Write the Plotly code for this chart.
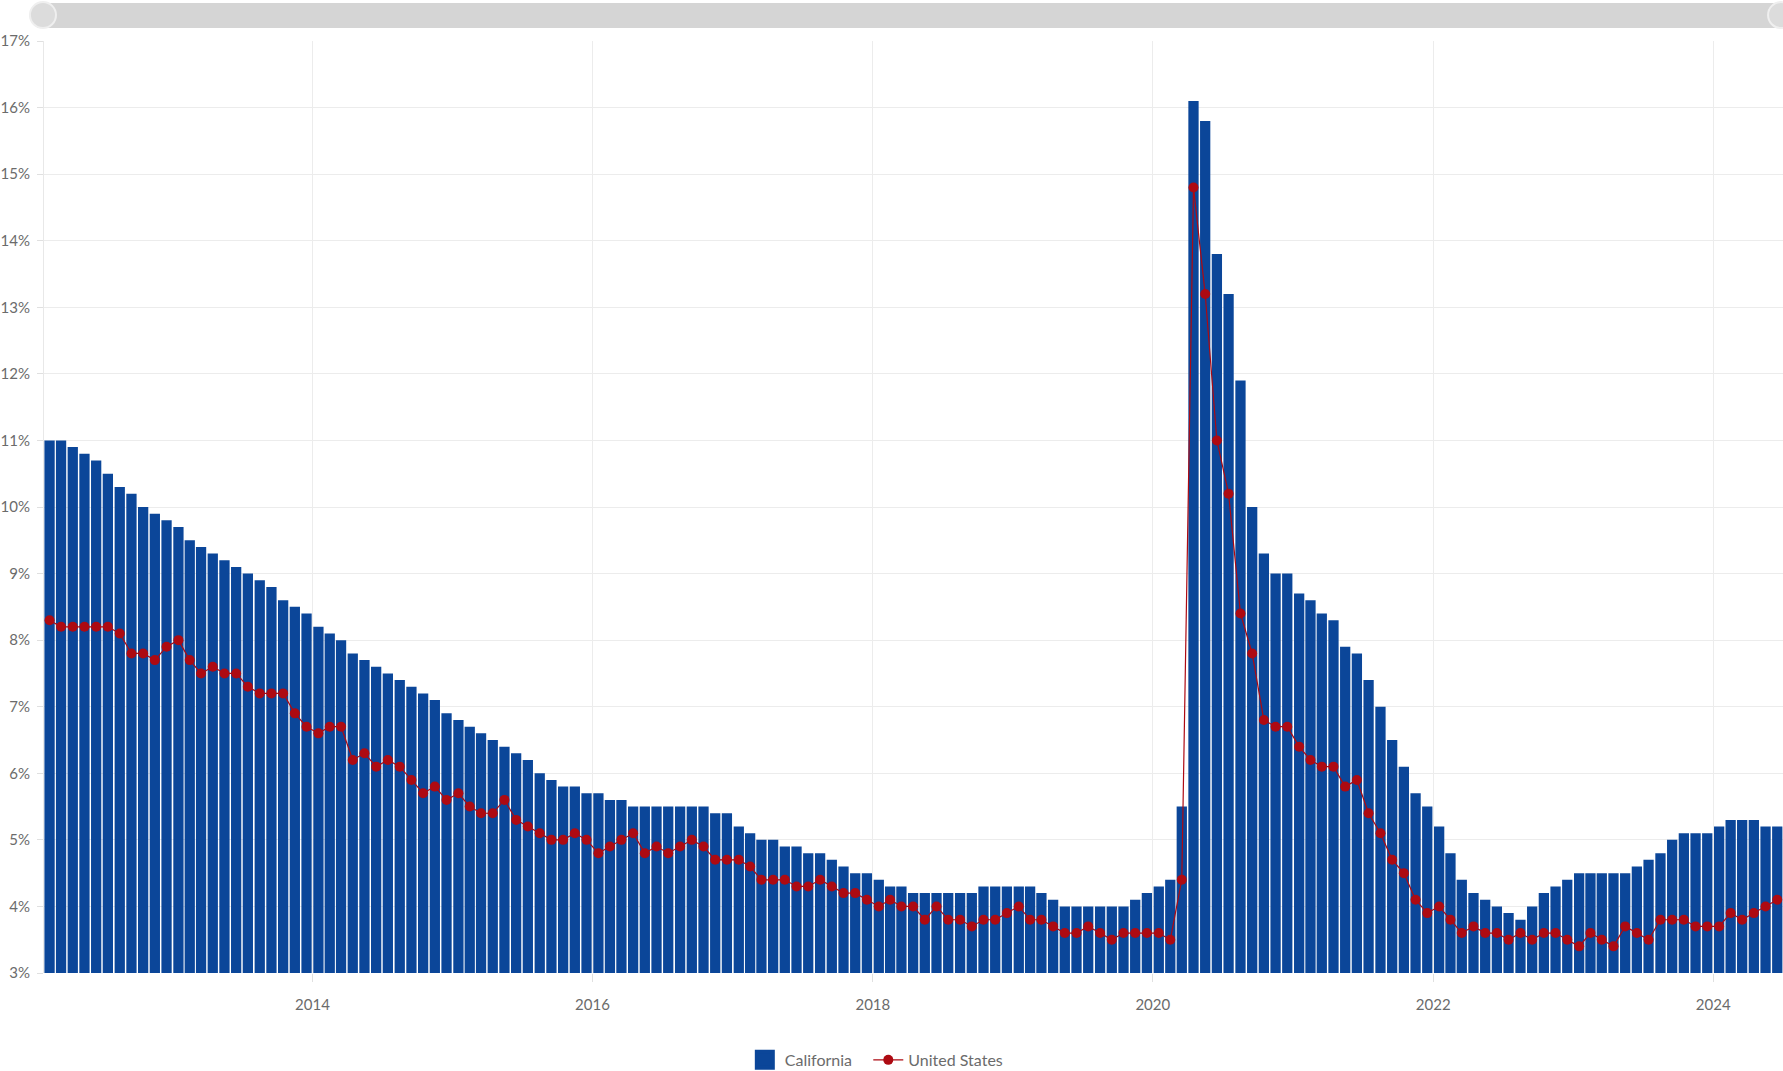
import pandas as pd
import plotly.graph_objects as go

start_month = "2012-02-01"

california = [
    11.0, 11.0, 10.9, 10.8, 10.7, 10.5, 10.3, 10.2, 10.0, 9.9, 9.8,
    9.7, 9.5, 9.4, 9.3, 9.2, 9.1, 9.0, 8.9, 8.8, 8.6, 8.5, 8.4,
    8.2, 8.1, 8.0, 7.8, 7.7, 7.6, 7.5, 7.4, 7.3, 7.2, 7.1, 6.9,
    6.8, 6.7, 6.6, 6.5, 6.4, 6.3, 6.2, 6.0, 5.9, 5.8, 5.8, 5.7,
    5.7, 5.6, 5.6, 5.5, 5.5, 5.5, 5.5, 5.5, 5.5, 5.5, 5.4, 5.4,
    5.2, 5.1, 5.0, 5.0, 4.9, 4.9, 4.8, 4.8, 4.7, 4.6, 4.5, 4.5,
    4.4, 4.3, 4.3, 4.2, 4.2, 4.2, 4.2, 4.2, 4.2, 4.3, 4.3, 4.3,
    4.3, 4.3, 4.2, 4.1, 4.0, 4.0, 4.0, 4.0, 4.0, 4.0, 4.1, 4.2,
    4.3, 4.4, 5.5, 16.1, 15.8, 13.8, 13.2, 11.9, 10.0, 9.3, 9.0, 9.0,
    8.7, 8.6, 8.4, 8.3, 7.9, 7.8, 7.4, 7.0, 6.5, 6.1, 5.7, 5.5,
    5.2, 4.8, 4.4, 4.2, 4.1, 4.0, 3.9, 3.8, 4.0, 4.2, 4.3, 4.4,
    4.5, 4.5, 4.5, 4.5, 4.5, 4.6, 4.7, 4.8, 5.0, 5.1, 5.1, 5.1,
    5.2, 5.3, 5.3, 5.3, 5.2, 5.2,
]

united_states = [
    8.3, 8.2, 8.2, 8.2, 8.2, 8.2, 8.1, 7.8, 7.8, 7.7, 7.9,
    8.0, 7.7, 7.5, 7.6, 7.5, 7.5, 7.3, 7.2, 7.2, 7.2, 6.9, 6.7,
    6.6, 6.7, 6.7, 6.2, 6.3, 6.1, 6.2, 6.1, 5.9, 5.7, 5.8, 5.6,
    5.7, 5.5, 5.4, 5.4, 5.6, 5.3, 5.2, 5.1, 5.0, 5.0, 5.1, 5.0,
    4.8, 4.9, 5.0, 5.1, 4.8, 4.9, 4.8, 4.9, 5.0, 4.9, 4.7, 4.7,
    4.7, 4.6, 4.4, 4.4, 4.4, 4.3, 4.3, 4.4, 4.3, 4.2, 4.2, 4.1,
    4.0, 4.1, 4.0, 4.0, 3.8, 4.0, 3.8, 3.8, 3.7, 3.8, 3.8, 3.9,
    4.0, 3.8, 3.8, 3.7, 3.6, 3.6, 3.7, 3.6, 3.5, 3.6, 3.6, 3.6,
    3.6, 3.5, 4.4, 14.8, 13.2, 11.0, 10.2, 8.4, 7.8, 6.8, 6.7, 6.7,
    6.4, 6.2, 6.1, 6.1, 5.8, 5.9, 5.4, 5.1, 4.7, 4.5, 4.1, 3.9,
    4.0, 3.8, 3.6, 3.7, 3.6, 3.6, 3.5, 3.6, 3.5, 3.6, 3.6, 3.5,
    3.4, 3.6, 3.5, 3.4, 3.7, 3.6, 3.5, 3.8, 3.8, 3.8, 3.7, 3.7,
    3.7, 3.9, 3.8, 3.9, 4.0, 4.1,
]

series_names = ["California", "United States"]
y_tick_values = list(range(3, 18))
y_tick_labels = [f"{v}%" for v in y_tick_values]

months = pd.date_range(start_month, periods=len(california), freq="MS")
x_start = months[0]
x_end = months[-1] + pd.offsets.MonthBegin(1)

BLUE = "#0b4699"
RED = "#ad0a12"
GRID = "#ececec"
TEXT = "#6b6b6b"
FONT = "Lato, 'Open Sans', sans-serif"

month_ms = 30.44 * 24 * 3600 * 1000

fig = go.Figure()
fig.add_trace(go.Bar(
    x=months, y=california, name=series_names[0],
    xperiod="M1", xperiodalignment="middle",
    width=month_ms * 0.88,
    marker=dict(color=BLUE, line=dict(width=0)),
    base=0, legendgroup="ca", showlegend=False,
))
# legend-only entry with a larger square swatch for California
fig.add_trace(go.Scatter(
    x=[None], y=[None], name=series_names[0], mode="markers",
    marker=dict(symbol="square", size=16, color=BLUE, line=dict(color=BLUE, width=4)),
    legendgroup="ca", showlegend=True, hoverinfo="skip", legend="legend",
))
fig.add_trace(go.Scatter(
    x=months, y=united_states, name=series_names[1],
    xperiod="M1", xperiodalignment="middle",
    mode="lines+markers",
    line=dict(color=RED, width=1.2),
    marker=dict(color=RED, size=10),
    cliponaxis=False, legend="legend2",
))

# navigator-style slider at top
shapes = [
    dict(type="rect", xref="paper", yref="paper", x0=-0.004, x1=1.0, y0=1.0139, y1=1.0408,
         fillcolor="#d5d5d5", line=dict(width=0), layer="above"),
    dict(type="circle", xref="paper", yref="paper", x0=-0.0081, x1=0.0069, y0=1.0139, y1=1.0418,
         fillcolor="#dcdcdc", line=dict(color="#efefef", width=2), layer="above"),
    dict(type="circle", xref="paper", yref="paper", x0=0.9914, x1=1.0063, y0=1.0139, y1=1.0418,
         fillcolor="#dcdcdc", line=dict(color="#efefef", width=2), layer="above"),
]

legend_common = dict(orientation="h", xanchor="left", yref="container", y=0.0103,
                     yanchor="middle",
                     font=dict(size=16, color=TEXT), itemwidth=30,
                     bgcolor="rgba(0,0,0,0)", borderwidth=0)

fig.update_layout(
    width=1783, height=1071,
    margin=dict(l=44, r=0, t=41, b=98),
    plot_bgcolor="white", paper_bgcolor="white",
    font=dict(family=FONT, color=TEXT, size=14),
    bargap=0.12,
    showlegend=True,
    legend=dict(x=0.403, **legend_common),
    legend2=dict(x=0.474, **legend_common),
    shapes=shapes,
    xaxis=dict(
        type="date", range=[x_start, x_end], automargin=False,
        tick0="2014-01-01", dtick="M24", tickformat="%Y",
        showgrid=True, gridcolor=GRID, gridwidth=1,
        ticks="outside", ticklen=8, tickcolor="#e0e0e0",
        ticklabelstandoff=10,
        showline=False, zeroline=False,
        tickfont=dict(size=15, color=TEXT),
    ),
    yaxis=dict(
        range=[3, 17], tickvals=y_tick_values, ticktext=y_tick_labels, automargin=False,
        showgrid=True, gridcolor=GRID, gridwidth=1,
        ticks="outside", ticklen=6, tickcolor="#e0e0e0",
        ticklabelstandoff=4,
        showline=True, linecolor="#e8e8e8",
        zeroline=False,
        tickfont=dict(size=15, color=TEXT),
    ),
)

fig.write_html(
    "out.html",
    config={"displayModeBar": False},
    post_script="document.body.style.margin='0';document.body.style.overflow='hidden';",
)
